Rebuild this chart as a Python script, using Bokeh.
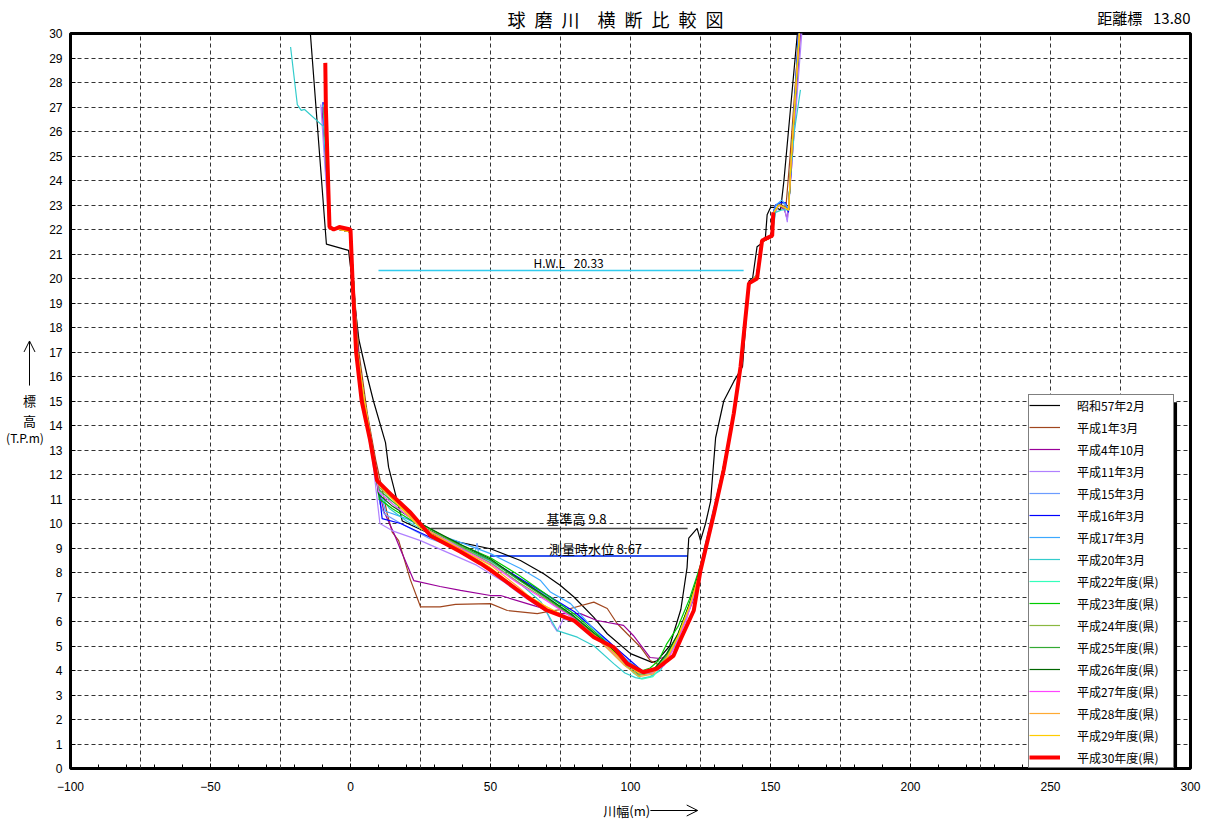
from bokeh.plotting import figure
from bokeh.layouts import column, row
from bokeh.models import (Range1d, SingleIntervalTicker, FixedTicker, Label, Arrow,
                          OpenHead, BoxAnnotation, CustomJSTickFormatter)
from bokeh.core.properties import value
from bokeh.embed import file_html
from bokeh.resources import INLINE

FONT = "Noto Sans CJK JP"
TICK_FONT = "Liberation Sans"

# ---------------- data (distance x [m], elevation T.P. [m]) ----------------
s57 = [(-15, 31), (-8.6, 21.4), (-0.7, 21.15), (0.5, 20), (3, 17.5), (6, 16), (8.2, 15),
       (12.5, 13.3), (13.6, 12.3), (18.5, 10.1), (28, 9.6), (39, 9.23), (50, 8.97),
       (60.7, 8.49), (69, 7.95), (75, 7.47), (79.8, 7.0), (86.9, 6.17), (91.7, 5.5),
       (100, 4.69), (107.7, 4.33), (109.5, 4.4), (114, 5.0), (118, 6.5), (120.2, 8.2),
       (120.8, 9.4), (123.8, 9.8), (125, 9.3), (126.8, 10.0), (128.6, 10.9), (130.4, 13.5),
       (133.3, 15.0), (136.9, 15.8), (140, 16.4), (142.3, 19.9), (143.6, 20.0), (145.2, 21.3),
       (146.4, 21.4), (148.2, 21.7), (148.8, 22.6), (150, 22.9), (151.8, 22.9), (153.6, 22.8),
       (154.8, 24.0), (159.6, 30), (160.5, 31)]
h01 = [(-9.6, 27.0), (-8.0, 24.5), (-7.3, 22.0), (-4, 22.0), (0, 21.9), (1, 20), (3, 17),
       (6, 14.5), (9, 12.6), (11.5, 11.3), (13.1, 10.4), (14.9, 9.65), (17.2, 9.3),
       (21.4, 7.7), (25, 6.6), (32, 6.6), (37.5, 6.7), (50, 6.73), (56, 6.45), (66.7, 6.32),
       (72.6, 6.45), (78.6, 6.53), (86.9, 6.79), (91.7, 6.53), (95.2, 5.92), (98.8, 5.5),
       (103.6, 4.95), (107, 4.41), (110.7, 4.2), (115, 4.6), (118, 5.3), (122.5, 6.5),
       (125, 8.0), (129.8, 10.4), (133.3, 12.2), (137, 14.5), (139.3, 16.4), (142.3, 19.8),
       (145, 20.1), (147, 21.5), (150.5, 21.7), (151, 22.7), (152, 23.0), (154, 23.0),
       (155.5, 22.9), (157, 25), (160.5, 30.5)]
h04 = [(-10.2, 27.0), (-8.5, 24), (-7.4, 22.0), (-4, 22.0), (0, 21.9), (1, 20), (3, 16.5),
       (6, 14), (9, 12), (11.9, 10.5), (15.5, 9.6), (18, 8.9), (22.6, 7.67), (32, 7.43),
       (39.3, 7.27), (50, 7.06), (53.6, 7.06), (63.1, 6.73), (75, 6.32), (82.1, 6.32),
       (88, 6.04), (97.5, 5.84), (101, 5.43), (107, 4.53), (110.7, 4.49), (113, 4.6),
       (116, 5.1), (119, 5.9), (122.5, 6.9), (125, 8.2), (130, 10.5), (133.5, 12.3),
       (137, 14.6), (139.5, 16.5), (142.3, 19.8), (145, 20.1), (147, 21.5), (150.5, 21.7),
       (151, 22.7), (153, 23.0), (155, 22.8), (156, 22.4), (157.5, 24.5), (161, 30.5)]
h11 = [(-10.6, 27.1), (-8.8, 24), (-7.6, 22.0), (-4, 22.0), (0, 21.9), (1, 20), (2.5, 16.5),
       (5, 14.5), (8, 12.5), (10.5, 10.0), (15, 9.7), (25, 9.3), (35, 8.8), (45, 8.3),
       (55, 7.6), (62, 7.0), (70, 6.4), (72, 5.9), (73.8, 5.6), (76, 6.1), (80, 6.0),
       (88, 5.3), (95, 4.7), (100, 4.3), (104, 4.0), (108, 3.9), (112, 4.3), (116, 5.0),
       (120, 6.2), (124, 7.8), (129, 10.3), (133, 12.2), (137, 14.4), (139.5, 16.6),
       (142.3, 19.8), (145, 20.1), (147, 21.5), (150.5, 21.7), (151.5, 22.6), (153, 23.0),
       (155, 22.9), (156, 22.3), (157.5, 24.5), (161.5, 30.5)]
h15 = [(-9.9, 27.2), (-8.4, 24), (-7.4, 22.0), (-4, 22.0), (0, 21.9), (1, 20), (2.5, 17),
       (5, 14.8), (8, 12.8), (10.5, 10.8), (12, 10.4), (18, 10.0), (28, 9.4), (40, 8.9),
       (44.5, 8.8), (45.2, 9.2), (45.8, 8.75), (55, 8.1), (65, 7.4), (75, 6.7), (85, 5.9),
       (92, 5.2), (98, 4.5), (103, 4.0), (107, 3.95), (111, 4.3), (115, 5.0), (119, 6.0),
       (123, 7.4), (126, 8.6), (130, 10.5), (133.5, 12.3), (137, 14.5), (139.5, 16.5),
       (142.3, 19.8), (145, 20.1), (147, 21.5), (150.5, 21.7), (151.2, 22.7), (152, 23.0),
       (154, 23.1), (155.5, 23.0), (156.4, 22.7), (157.2, 24.5), (160.8, 30.5)]
h16 = [(-9.8, 27.2), (-8.4, 24), (-7.1, 22.0), (-4, 22.0), (0, 21.9), (1, 20), (2.5, 17),
       (5, 15), (8, 13), (10.5, 11.0), (11.3, 10.2), (17.9, 10.0), (28.6, 9.43), (40, 8.95),
       (50, 8.5), (60, 7.8), (70, 7.1), (80, 6.4), (88, 5.6), (95, 4.9), (100, 4.4),
       (104, 4.0), (108, 4.0), (112, 4.4), (116, 5.2), (120, 6.2), (124, 7.7), (129, 10.2),
       (133, 12.1), (137, 14.5), (139.5, 16.5), (142.3, 19.8), (145, 20.1), (147, 21.5),
       (150.5, 21.7), (151, 22.7), (151.8, 23.0), (153.6, 23.1), (155.4, 23.1), (156.4, 22.7),
       (157.1, 24), (160.2, 30.5)]
h17 = [(-9.7, 27.0), (-8.3, 24), (-7.3, 22.0), (-4, 22.0), (0, 21.9), (1, 20), (2.5, 17),
       (5, 15), (8, 13), (10.5, 11.3), (12.5, 10.5), (20, 10.2), (30, 9.6), (40, 9.2),
       (50, 8.77), (60.7, 8.16), (67.9, 7.67), (71.4, 7.2), (78.6, 6.73), (86, 5.8), (93, 5.0),
       (99, 4.4), (104, 4.0), (108, 4.0), (112, 4.4), (116, 5.2), (120, 6.2), (124, 7.7),
       (129, 10.2), (133, 12.1), (137, 14.5), (139.5, 16.5), (142.3, 19.8), (145, 20.1),
       (147, 21.5), (150.5, 21.7), (151, 22.7), (152, 23.0), (154, 23.2), (155.5, 23.0),
       (156.5, 22.8), (157, 24), (160.3, 30.5)]
h20 = [(-21.4, 29.45), (-19, 27.1), (-17.6, 26.86), (-16.4, 26.9), (-9.6, 26.2), (-8.3, 24),
       (-7.3, 22.0), (-4, 22.0), (0, 21.9), (1, 20), (2.5, 17), (5, 15), (8, 13), (10.5, 11.2),
       (14, 10.6), (20, 10.1), (30, 9.5), (40, 9.0), (50, 8.4), (60, 7.6), (68, 6.8),
       (73.8, 5.63), (81, 5.36), (87, 5.0), (94, 4.28), (98, 3.9), (101.8, 3.71), (103.6, 3.67),
       (107, 3.75), (110.7, 4.0), (114, 4.7), (118, 5.7), (122, 7.0), (125, 8.3), (129.5, 10.3),
       (133, 12.1), (137, 14.5), (139.5, 16.5), (142.3, 19.8), (145, 20.1), (147, 21.5),
       (150.5, 21.7), (151.8, 22.7), (154, 22.8), (156.4, 22.8), (157, 24), (158.5, 26),
       (160.7, 27.7)]
h22 = [(-9.6, 27.1), (-8.3, 24), (-7.3, 22.0), (-4, 22.0), (0, 21.9), (1, 20), (2.5, 17),
       (5, 15), (8, 13), (10.2, 11.3), (15, 10.8), (25, 9.9), (40, 9.0), (50, 8.5), (60, 7.7),
       (70, 7.0), (80, 6.2), (90, 5.2), (97, 4.4), (101, 3.9), (104, 3.65), (108, 3.75),
       (112, 4.3), (116, 5.1), (120, 6.1), (124, 7.6), (129.5, 10.3), (133, 12.1), (137, 14.5),
       (139.5, 16.5), (142.3, 19.8), (145, 20.1), (147, 21.5), (150.5, 21.7), (151.2, 22.7),
       (153, 23.0), (155, 22.9), (156.5, 22.8), (157.2, 24.5), (160.6, 30.5)]
h23 = [(-9.5, 27.0), (-8.2, 24), (-7.3, 22.0), (-4, 22.0), (0, 21.9), (1, 20), (2.5, 17),
       (5, 15), (8, 13), (10.3, 11.0), (15, 10.6), (25, 9.9), (40, 9.1), (50, 8.6), (60, 7.9),
       (70, 7.1), (80, 6.3), (90, 5.3), (98, 4.3), (103, 3.95), (107, 4.1), (110, 4.4),
       (113, 5.1), (117, 5.8), (121, 6.9), (125, 8.3), (129.5, 10.4), (133, 12.2), (137, 14.5),
       (139.5, 16.5), (142.3, 19.8), (145, 20.1), (147, 21.5), (150.5, 21.7), (151.2, 22.7),
       (153, 23.0), (155, 22.9), (156.5, 22.8), (157.2, 24.5), (160.6, 30.5)]
h24 = [(-9.5, 27.0), (-8.2, 24), (-7.3, 22.0), (-4, 22.0), (0, 21.9), (1, 20), (2.5, 17),
       (5, 15), (8, 13), (10, 11.5), (16, 10.9), (25, 10.0), (40, 9.0), (50, 8.4), (60, 7.6),
       (70, 6.9), (80, 6.1), (90, 5.1), (98, 4.2), (103, 3.8), (108, 3.9), (113, 4.6),
       (117, 5.5), (121, 6.7), (125, 8.2), (129.5, 10.4), (133, 12.2), (137, 14.5),
       (139.5, 16.5), (142.3, 19.8), (145, 20.1), (147, 21.5), (150.5, 21.7), (151.2, 22.7),
       (153, 23.0), (155, 22.9), (156.5, 22.8), (157.2, 24.5), (160.6, 30.5)]
h25 = [(-9.4, 27.0), (-8.2, 24), (-7.3, 22.0), (-4, 22.0), (0, 21.9), (1, 20), (2.5, 17),
       (5, 15), (8, 13), (10, 11.4), (15, 10.9), (25, 10.0), (40, 9.05), (50, 8.5), (60, 7.7),
       (70, 6.95), (80, 6.15), (90, 5.2), (98, 4.3), (103, 3.85), (108, 3.95), (113, 4.7),
       (117, 5.5), (121, 6.7), (125, 8.2), (129.5, 10.4), (133, 12.2), (137, 14.5),
       (139.5, 16.5), (142.3, 19.8), (145, 20.1), (147, 21.5), (150.5, 21.7), (151.2, 22.7),
       (153, 23.0), (155, 22.9), (156.5, 22.8), (157.2, 24.5), (160.6, 30.5)]
h26 = [(-9.4, 27.0), (-8.2, 24), (-7.3, 22.0), (-4, 22.0), (0, 21.9), (1, 20), (2.5, 17),
       (5, 15), (8, 13), (10, 11.2), (15, 10.7), (25, 10.0), (40, 9.1), (50, 8.55), (60, 7.75),
       (70, 7.0), (80, 6.2), (90, 5.25), (98, 4.35), (103, 3.9), (108, 4.0), (113, 4.7),
       (117, 5.5), (121, 6.7), (125, 8.2), (129.5, 10.4), (133, 12.2), (137, 14.5),
       (139.5, 16.5), (142.3, 19.8), (145, 20.1), (147, 21.5), (150.5, 21.7), (151.2, 22.7),
       (153, 23.0), (155, 22.9), (156.5, 22.8), (157.2, 24.5), (160.6, 30.5)]
h27 = [(-9.4, 27.0), (-8.2, 24), (-7.3, 22.0), (-4, 22.0), (0, 21.9), (1, 20), (2.5, 17),
       (5, 15), (8, 13), (10, 11.3), (15, 10.8), (25, 9.9), (40, 8.95), (50, 8.35), (60, 7.55),
       (70, 6.85), (80, 6.1), (90, 5.1), (98, 4.3), (103, 3.9), (108, 3.9), (112, 4.2),
       (116, 5.0), (120, 6.1), (124, 7.6), (129.5, 10.3), (133, 12.1), (137, 14.5),
       (139.5, 16.5), (142.3, 19.8), (145, 20.1), (147, 21.5), (150.5, 21.7), (151.2, 22.7),
       (153, 23.0), (155, 22.9), (156.5, 22.8), (157.2, 24.5), (160.6, 30.5)]
h28 = [(-9.3, 27.0), (-8.2, 24), (-7.3, 22.0), (-4, 22.0), (0, 21.9), (1, 20), (2.5, 17),
       (5, 15), (8, 13), (10, 11.6), (15, 11.0), (25, 9.9), (40, 8.9), (50, 8.3), (60, 7.4),
       (65, 6.9), (70, 6.6), (80, 6.0), (90, 5.1), (98, 4.2), (103, 3.75), (108, 3.85),
       (113, 4.5), (117, 5.4), (121, 6.6), (125, 8.1), (129.5, 10.4), (133, 12.2), (137, 14.5),
       (139.5, 16.5), (142.3, 19.8), (145, 20.1), (147, 21.5), (150.5, 21.7), (151.2, 22.7),
       (153, 23.0), (155, 22.9), (156.5, 22.8), (157.2, 24.5), (160.6, 30.5)]
h29 = [(-9.2, 27.0), (-8.2, 24), (-7.3, 22.0), (-4, 22.0), (0, 21.9), (1, 20), (2.5, 17),
       (5, 15), (8, 13), (10, 11.6), (15, 11.0), (25, 9.8), (40, 8.9), (50, 8.2), (60, 7.3),
       (70, 6.6), (80, 6.0), (90, 5.2), (98, 4.3), (103, 3.9), (108, 3.95), (113, 4.5),
       (117, 5.4), (121, 6.6), (125, 8.1), (129.5, 10.4), (133, 12.2), (137, 14.5),
       (139.5, 16.5), (142.3, 19.8), (145, 20.1), (147, 21.5), (150.5, 21.7), (151.2, 22.7),
       (153, 23.0), (155, 22.9), (156.5, 22.8), (157.2, 24.5), (160.6, 30.5)]
h30 = [(-9, 28.8), (-8.8, 27), (-7.5, 22.1), (-6, 22.0), (-4, 22.1), (0, 22.0), (0.7, 20),
       (2, 17), (4, 15), (7, 13.4), (9.5, 11.75), (14.9, 11.14), (21.4, 10.45), (28.6, 9.5),
       (39.3, 8.85), (46.4, 8.37), (50, 8.1), (63.1, 7.0), (70.2, 6.45), (79.8, 6.04),
       (86.9, 5.36), (94, 4.95), (98.8, 4.28), (104.6, 3.93), (109.5, 4.08), (115.4, 4.61),
       (118, 5.3), (122.6, 6.45), (125, 8.08), (129.8, 10.4), (133.3, 12.2), (136.9, 14.5),
       (139.3, 16.4), (142.3, 19.8), (145.2, 20.0), (147, 21.55), (150.6, 21.75), (151, 22.7)]

series_names = ["昭和57年2月", "平成1年3月", "平成4年10月", "平成11年3月", "平成15年3月",
                "平成16年3月", "平成17年3月", "平成20年3月", "平成22年度(県)", "平成23年度(県)",
                "平成24年度(県)", "平成25年度(県)", "平成26年度(県)", "平成27年度(県)",
                "平成28年度(県)", "平成29年度(県)", "平成30年度(県)"]
series_data = [s57, h01, h04, h11, h15, h16, h17, h20, h22, h23, h24, h25, h26, h27, h28, h29, h30]
series_colors = ["#000000", "#a0461e", "#990099", "#b080ff", "#6c9cff", "#0000ff", "#3ca8ff",
                 "#33cccc", "#33ffbb", "#00cc00", "#8ab840", "#33aa33", "#006600", "#ff44ff",
                 "#ffaa33", "#ffcc00", "#ff0000"]
series_widths = [1.2] * 16 + [4]

# reference levels
hwl_level, hwl_x = 20.33, (10, 140.4)
base_level, base_x = 9.8, (28.6, 120.4)
water_level, water_x = 8.67, (50, 120.4)

x_ticks_interval = 50
y_ticks = list(range(0, 31))

title_text = "球\u2002磨\u2002川\u3000横\u2002断\u2002比\u2002較\u2002図"
station_text = "距離標\u2002 13.80"
x_label_text = "川幅(m)"
y_label_lines = ["標", "高", "(T.P.m)"]

# ---------------- layout geometry (pixels) ----------------
CAP_W = 44
TICK_BL, TICK_FW = 22, 2
FRAME_W, FRAME_H = 1120, 735
FRAME_TOP = 33
UPPER_BOTTOM = 7
HEAD_H = 32
MAIN_BL, MAIN_BT, MAIN_BR = 2, FRAME_TOP - HEAD_H, 16
FULL_L = CAP_W + TICK_BL + TICK_FW + MAIN_BL   # = 70, left edge of plotting frame
XL_BB = 19
FOOT_H = 25
XMIN, XMAX, YMIN, YMAX = -100, 300, 0, 30
BAND_W = MAIN_BL + FRAME_W + MAIN_BR
FULL_W = FULL_L + FRAME_W + MAIN_BR


def blank(width, height, xr, yr):
    # sibling frames in a column are aligned by Bokeh, so xr matches the chart's x scale
    f = figure(width=width, height=height, x_range=xr, y_range=yr, output_backend="svg",
               toolbar_location=None, x_axis_type=None, y_axis_type=None, title=None,
               min_border=0)
    f.outline_line_color = None
    f.background_fill_color = "white"
    f.border_fill_color = "white"
    return f


def txt(f, x, y, t, size, align="center"):
    f.text(x=[x], y=[y], text=[t], text_font=value(FONT), text_font_size=size,
           text_align=align, text_baseline="middle", text_color="black")


# caption strip: same vertical frame as the chart, so it shares the elevation scale
cap = figure(frame_width=CAP_W, frame_height=FRAME_H, x_range=Range1d(0, CAP_W),
             y_range=Range1d(YMIN, YMAX), output_backend="svg", toolbar_location=None,
             x_axis_type=None, y_axis_type=None, title=None, min_border_left=0,
             min_border_right=0, min_border_top=FRAME_TOP, min_border_bottom=UPPER_BOTTOM)
cap.outline_line_color = None
cap.background_fill_color = "white"
cap.border_fill_color = "white"
txt(cap, 29, 15.02, y_label_lines[0], "13px")
txt(cap, 29, 14.2, y_label_lines[1], "13px")
txt(cap, 24.5, 13.5, y_label_lines[2], "12px")
cap.add_layout(Arrow(end=OpenHead(size=11, line_width=1), x_start=29, y_start=15.63,
                     x_end=29, y_end=17.45, line_width=1, line_color="black"))

# elevation tick-label strip
tk = figure(frame_width=TICK_FW, frame_height=FRAME_H, x_range=Range1d(0, 1),
            y_range=Range1d(YMIN, YMAX), output_backend="svg", toolbar_location=None,
            x_axis_type=None, title=None, min_border_left=TICK_BL, min_border_right=0,
            min_border_top=FRAME_TOP, min_border_bottom=UPPER_BOTTOM)
tk.outline_line_color = None
tk.background_fill_color = "white"
tk.border_fill_color = "white"
tk.ygrid.visible = False
tk.yaxis.ticker = FixedTicker(ticks=y_ticks)
tk.yaxis.axis_line_color = None
tk.yaxis.major_tick_in = 0
tk.yaxis.major_tick_out = 0
tk.yaxis.minor_tick_line_color = None
tk.yaxis.major_label_standoff = 4
tk.yaxis.major_label_text_font = TICK_FONT
tk.yaxis.major_label_text_font_size = "12px"
tk.yaxis.major_label_text_color = "black"

# header with title and station label (frame aligned with the chart frame)
head = blank(BAND_W, HEAD_H, Range1d(XMIN, XMAX), Range1d(0, HEAD_H))
txt(head, 94.6, HEAD_H - 18.7, title_text, "18px")
txt(head, XMAX, HEAD_H - 17, station_text, "15px", align="right")

# ---------------- main chart ----------------
p = figure(frame_width=FRAME_W, frame_height=FRAME_H, x_range=Range1d(XMIN, XMAX),
           y_range=Range1d(YMIN, YMAX), output_backend="svg", toolbar_location=None,
           title=None, min_border_left=MAIN_BL, min_border_top=MAIN_BT,
           min_border_right=MAIN_BR, min_border_bottom=UPPER_BOTTOM)
p.background_fill_color = "white"
p.border_fill_color = "white"
p.outline_line_color = "black"
p.outline_line_width = 3

p.xaxis.ticker = SingleIntervalTicker(interval=x_ticks_interval, num_minor_ticks=5)
p.yaxis.ticker = FixedTicker(ticks=y_ticks)
for ax in (p.xaxis[0], p.yaxis[0]):
    ax.axis_line_color = None
    ax.major_tick_in = 5
    ax.major_tick_out = 0
    ax.minor_tick_in = 4
    ax.minor_tick_out = 0
    ax.major_tick_line_color = "black"
    ax.minor_tick_line_color = "black"
    ax.formatter = CustomJSTickFormatter(code="return ''")
    ax.major_label_standoff = 0
    ax.major_label_text_font_size = "1px"

p.xgrid.ticker = SingleIntervalTicker(interval=25)
p.ygrid.ticker = SingleIntervalTicker(interval=1)
for g in (p.xgrid[0], p.ygrid[0]):
    g.grid_line_color = "#333333"
    g.grid_line_dash = "4 3"
    g.grid_line_width = 1

# reference lines
p.line(list(hwl_x), [hwl_level, hwl_level], line_color="#33ccee", line_width=1.5)
p.line(list(base_x), [base_level, base_level], line_color="#444444", line_width=1.5)
p.line(list(water_x), [water_level, water_level], line_color="#3355ee", line_width=2)

for name, pts, col, w in zip(series_names, series_data, series_colors, series_widths):
    xs = [a for a, b in pts]
    ys = [b for a, b in pts]
    p.line(xs, ys, line_color=col, line_width=w, legend_label=name)

lg = p.legend[0]
lg.location = (958, 0)
lg.border_line_color = "black"
lg.border_line_width = 1
lg.background_fill_alpha = 1
lg.padding = 0
lg.spacing = 2
lg.margin = 0
lg.glyph_width = 31
lg.glyph_height = 20
lg.label_height = 20
lg.label_standoff = 17
lg.label_text_font = FONT
lg.label_text_font_size = "12px"
lg.label_text_color = "black"
lg.label_width = 96

p.add_layout(BoxAnnotation(left=293.7, right=295.2, bottom=0, top=14.95,
                           fill_color="black", fill_alpha=1, line_color=None))


def lab(x, y, t, size):
    p.add_layout(Label(x=x, y=y, text=t, text_font=FONT, text_font_size=size,
                       text_align="center", text_baseline="middle", text_color="black"))


lab(77.9, 20.65, "H.W.L\u2002 " + f"{hwl_level:.2f}", "12px")
lab(80.7, 10.2, f"基準高 {base_level}", "13px")
lab(87.5, 8.98, f"測量時水位 {water_level}", "13px")

# ---------------- distance tick-label band (full width) ----------------
xl = figure(frame_width=FRAME_W, frame_height=1, x_range=Range1d(XMIN, XMAX),
            y_range=Range1d(0, 1), output_backend="svg", toolbar_location=None,
            y_axis_type=None, title=None, min_border_left=FULL_L, min_border_right=MAIN_BR,
            min_border_top=0, min_border_bottom=XL_BB)
xl.outline_line_color = None
xl.background_fill_color = "white"
xl.border_fill_color = "white"
xl.xgrid.visible = False
xl.xaxis.ticker = SingleIntervalTicker(interval=x_ticks_interval)
xl.xaxis.axis_line_color = None
xl.xaxis.major_tick_in = 0
xl.xaxis.major_tick_out = 0
xl.xaxis.minor_tick_line_color = None
xl.xaxis.major_label_standoff = 1
xl.xaxis.major_label_text_font = TICK_FONT
xl.xaxis.major_label_text_font_size = "12px"
xl.xaxis.major_label_text_color = "black"

# footer with horizontal-axis caption (frame aligned with the tick-label band)
foot = blank(FULL_W, FOOT_H, Range1d(XMIN, XMAX), Range1d(0, FOOT_H))
txt(foot, 107.0, FOOT_H - 15, x_label_text, "13px", align="right")
foot.add_layout(Arrow(end=OpenHead(size=11, line_width=1), x_start=107.1, y_start=FOOT_H - 15,
                      x_end=124.0, y_end=FOOT_H - 15, line_width=1, line_color="black"))

layout = column(row(cap, tk, column(head, p, spacing=0), spacing=0), xl, foot, spacing=0)

open("out.html", "w").write(file_html(layout, INLINE))
